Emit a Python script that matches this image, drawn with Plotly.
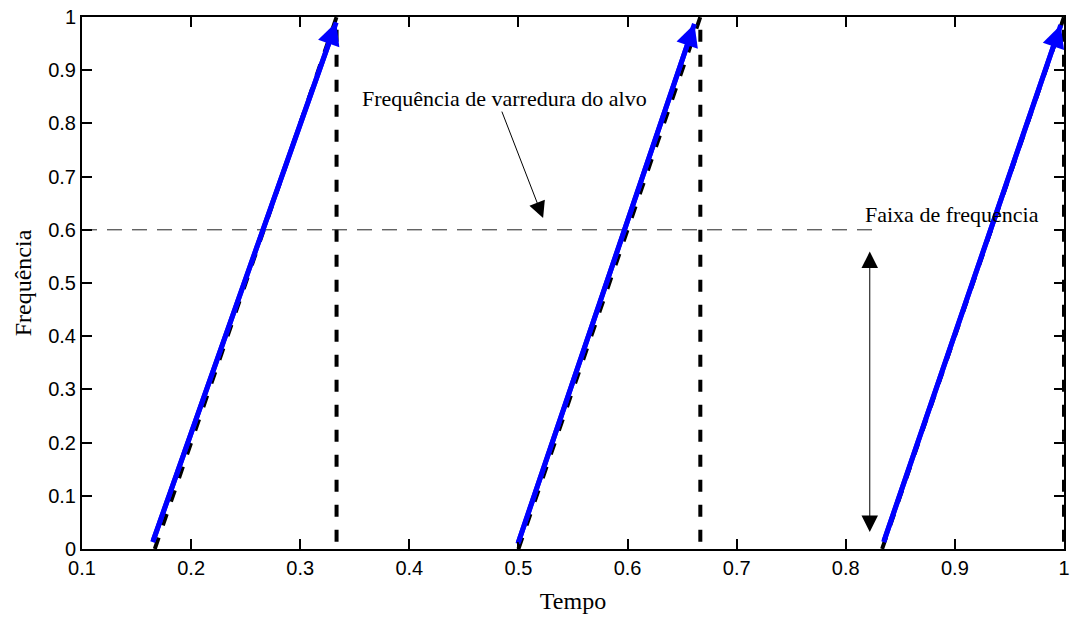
import plotly.graph_objects as go

# Black dashed sawtooth (reference frequency sweep): ramp up then drop
saw_x = [0.1667, 0.3333, 0.3333, None, 0.5, 0.6667, 0.6667, None, 0.8333, 1.0, 1.0]
saw_y = [0.0, 1.0, 0.0, None, 0.0, 1.0, 0.0, None, 0.0, 1.0, 0.0]

# Blue arrows (target sweep)
arrow_x0 = [0.1648, 0.4995, 0.8347]
arrow_y0 = [0.013, 0.010, 0.013]
arrow_x1 = [0.3330, 0.6613, 0.9970]
arrow_y1 = [0.990, 0.987, 0.985]

# Horizontal band line
band_x = [0.1, 0.832]
band_y = [0.6, 0.6]

x_ticks = [0.1, 0.2, 0.3, 0.4, 0.5, 0.6, 0.7, 0.8, 0.9, 1.0]
x_ticktext = ["0.1", "0.2", "0.3", "0.4", "0.5", "0.6", "0.7", "0.8", "0.9", "1"]
y_ticks = [0, 0.1, 0.2, 0.3, 0.4, 0.5, 0.6, 0.7, 0.8, 0.9, 1.0]
y_ticktext = ["0", "0.1", "0.2", "0.3", "0.4", "0.5", "0.6", "0.7", "0.8", "0.9", "1"]

label1 = "Frequência de varredura do alvo"
label1_pos = (0.487, 0.846)
label1_arrow = ((0.4843, 0.825), (0.5226, 0.622))
label2 = "Faixa de frequencia"
label2_pos = (0.8977, 0.628)
label2_arrow = ((0.822, 0.562), (0.822, 0.032))

fig = go.Figure()
fig.add_trace(go.Scatter(x=saw_x, y=saw_y, mode="lines", connectgaps=False,
                         line=dict(color="black", width=4, dash="12px,13px"),
                         showlegend=False, hoverinfo="skip"))
fig.add_trace(go.Scatter(x=band_x, y=band_y, mode="lines",
                         line=dict(color="#222222", width=1, dash="15px,10px"),
                         showlegend=False, hoverinfo="skip"))
# blue shafts
for x0, y0, x1, y1 in zip(arrow_x0, arrow_y0, arrow_x1, arrow_y1):
    fig.add_trace(go.Scatter(x=[x0, x1], y=[y0, y1], mode="lines",
                             line=dict(color="#0000ff", width=5),
                             showlegend=False, hoverinfo="skip"))

annotations = []
for x0, y0, x1, y1 in zip(arrow_x0, arrow_y0, arrow_x1, arrow_y1):
    annotations.append(dict(x=x1, y=y1, ax=x0, ay=y0, xref="x", yref="y",
                            axref="x", ayref="y", text="", showarrow=True,
                            arrowhead=2, arrowsize=0.9, arrowwidth=5,
                            arrowcolor="#0000ff", standoff=0, startstandoff=0))
annotations.append(dict(x=label1_pos[0], y=label1_pos[1], xref="x", yref="y",
                        text=label1, showarrow=False,
                        font=dict(family="Liberation Serif", size=22, color="black")))
(a0, a1) = label1_arrow
annotations.append(dict(x=a1[0], y=a1[1], ax=a0[0], ay=a0[1], xref="x", yref="y",
                        axref="x", ayref="y", text="", showarrow=True,
                        arrowhead=2, arrowsize=3.3, arrowwidth=1,
                        arrowcolor="black", standoff=0, startstandoff=0))
annotations.append(dict(x=label2_pos[0], y=label2_pos[1], xref="x", yref="y",
                        text=label2, showarrow=False,
                        font=dict(family="Liberation Serif", size=22, color="black")))
(b0, b1) = label2_arrow
annotations.append(dict(x=b1[0], y=b1[1], ax=b0[0], ay=b0[1], xref="x", yref="y",
                        axref="x", ayref="y", text="", showarrow=True,
                        arrowhead=2, startarrowhead=2, arrowside="end+start",
                        arrowsize=3.3, startarrowsize=3.3, arrowwidth=1,
                        arrowcolor="black", standoff=0, startstandoff=0))

axis_common = dict(showgrid=False, zeroline=False, showline=True, linecolor="black",
                   linewidth=2, mirror="ticks", ticks="inside", ticklen=10,
                   tickwidth=1.5, tickcolor="black", automargin=False,
                   ticklabeloverflow="allow",
                   tickfont=dict(family="Liberation Sans", size=20, color="black"))

fig.update_layout(
    width=1072, height=617,
    margin=dict(l=82, r=8, t=17, b=68),
    plot_bgcolor="white", paper_bgcolor="white",
    xaxis=dict(range=[0.1, 1.0], tickvals=x_ticks, ticktext=x_ticktext,
               title=dict(text="Tempo", standoff=14,
                          font=dict(family="Liberation Serif", size=24, color="black")),
               **axis_common),
    yaxis=dict(range=[0, 1.0], tickvals=y_ticks, ticktext=y_ticktext,
               title=dict(text="Frequência", standoff=10,
                          font=dict(family="Liberation Serif", size=24, color="black")),
               **axis_common),
    annotations=annotations,
)

fig.write_html("out.html")
